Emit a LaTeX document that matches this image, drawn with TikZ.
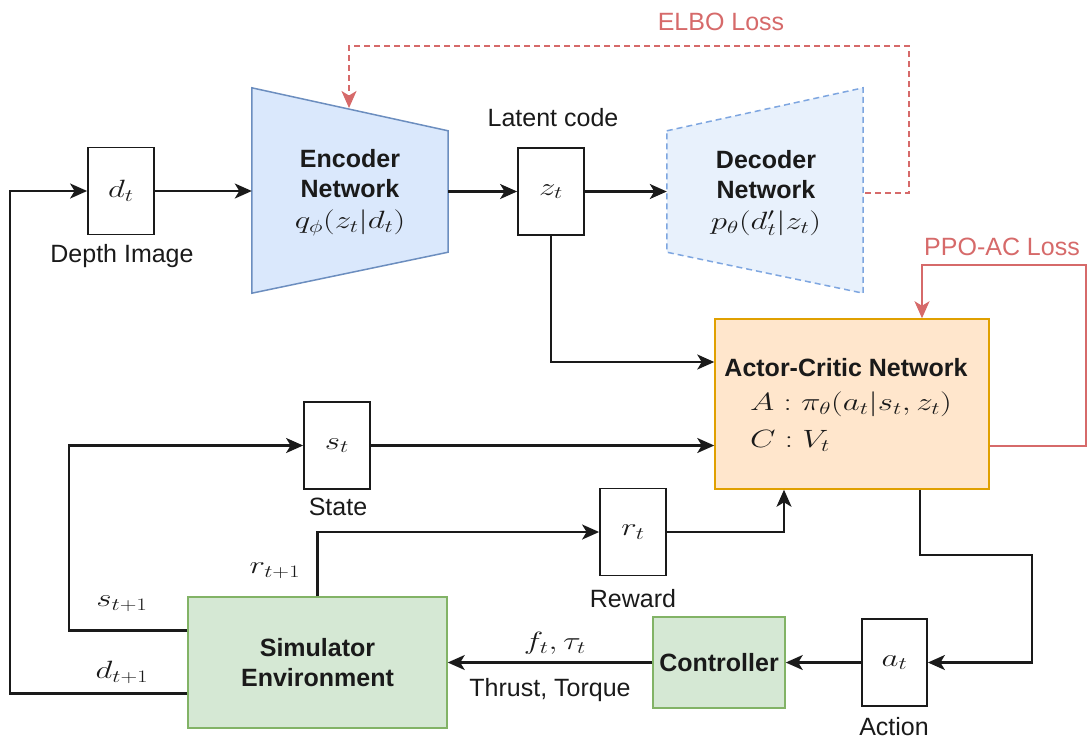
\RequirePackage{fix-cm}
\documentclass[tikz,border=0pt]{standalone}
\usepackage{graphicx}
\usepackage{fontspec}
\setmainfont{Liberation Sans}
\DeclareMathSizes{25}{25}{17.5}{12.5}
\usetikzlibrary{arrows.meta}

% math set a little wide, as in the figure's equation renderer
\newcommand{\widemath}[1]{\scalebox{1.32}[1]{$#1$}}

\definecolor{ink}{HTML}{1A1A1A}
\definecolor{encfill}{HTML}{DAE8FC}
\definecolor{encline}{HTML}{6C8EBF}
\definecolor{decfill}{HTML}{E8F1FC}
\definecolor{decline}{HTML}{7EA6E0}
\definecolor{acfill}{HTML}{FFE6CC}
\definecolor{acline}{HTML}{E0A000}
\definecolor{simfill}{HTML}{D5E8D4}
\definecolor{simline}{HTML}{82B366}
\definecolor{lossred}{HTML}{D66A6A}

\begin{document}
\begin{tikzpicture}[x=1pt,y=-1pt,
  every node/.style={font=\fontsize{25}{30}\selectfont, text=ink},
  varbox/.style={draw=ink, fill=white, line width=1.8pt, inner sep=0pt,
                 minimum width=66pt, minimum height=87pt},
  greenbox/.style={draw=simline, fill=simfill, line width=1.5pt, inner sep=0pt,
                   font=\fontsize{25}{30}\selectfont\bfseries, align=center},
  shapeframe/.style={inner sep=0pt, minimum width=196pt, minimum height=205pt},
  netlabel/.style={align=center, font=\fontsize{25}{30}\selectfont\bfseries},
  conn/.style={draw=ink, line width=2.1pt,
               -{Stealth[length=17pt,width=15pt,inset=4.5pt]}},
  loss/.style={draw=lossred, line width=1.8pt,
               -{Stealth[length=17pt,width=15pt,inset=4.5pt]}},
  lossdash/.style={loss, dash pattern=on 6pt off 4pt},
  losslabel/.style={text=lossred},
]
\useasboundingbox (0,0) rectangle (1091,740);

% ---------- encoder / decoder ----------
\node[shapeframe] (enc) at (350,190.5) {};
\filldraw[fill=encfill, draw=encline, line width=1.5pt]
  (enc.north west) -- ([yshift=-43pt]enc.north east)
  -- ([yshift=41pt]enc.south east) -- (enc.south west) -- cycle;
\node[netlabel] (enctext) at (350,193)
  {Encoder\\Network\\[1pt]\mdseries\widemath{q_\phi(z_t|d_t)}};

\node[shapeframe] (dec) at (765,190.5) {};
\filldraw[fill=decfill, draw=decline, line width=1.5pt, dash pattern=on 6pt off 4pt]
  ([yshift=-43pt]dec.north west) -- (dec.north east)
  -- (dec.south east) -- ([yshift=41pt]dec.south west) -- cycle;
\node[netlabel] (dectext) at (766,193)
  {Decoder\\Network\\[1pt]\mdseries\widemath{p_\theta(d'_t|z_t)}};

\coordinate (encT) at (349,108);
\coordinate (decR) at (865,193);

% ---------- variables ----------
\node[varbox] (dt) at (121,191) {\widemath{d_t}};
\node[varbox] (zt) at (551,191.5) {\widemath{z_t}};
\node[varbox] (st) at (337,445.5) {\widemath{s_t}};
\node[varbox] (rt) at (633,532) {\widemath{r_t}};
\node[varbox, minimum width=65pt] (at) at (894.5,662.5) {\widemath{a_t}};

\node (dtlab) at (122,256) {Depth Image};
\node (ztlab) at (553,118) {Latent code};
\node (stlab) at (338,507) {State};
\node (rtlab) at (633,599) {Reward};
\node (atlab) at (894,727) {Action};

% ---------- actor-critic ----------
\node[draw=acline, fill=acfill, line width=1.5pt, inner sep=0pt,
      minimum width=274pt, minimum height=170pt] (ac) at (852,404) {};
\node[font=\fontsize{25}{30}\selectfont\bfseries] (actitle) at (846,368) {Actor-Critic Network};
\node[anchor=west, inner sep=0pt] (acA) at (750,404) {\widemath{A:\pi_\theta(a_t|s_t,z_t)}};
\node[anchor=west, inner sep=0pt] (acC) at (750,441) {\widemath{C:V_t}};

% ---------- environment and controller ----------
\node[greenbox, minimum width=259pt, minimum height=131pt] (sim) at (317.5,662.5)
  {Simulator\\Environment};
\node[greenbox, minimum width=132pt, minimum height=91pt] (ctrl) at (719,662.5)
  {Controller};

% ---------- signal labels ----------
\node (splab) at (122,604) {\widemath{s_{t+1}}};
\node (dplab) at (122,672) {\widemath{d_{t+1}}};
\node (rplab) at (275,571) {\widemath{r_{t+1}}};
\node (ftlab) at (555,643) {\widemath{f_t,\tau_t}};
\node (thlab) at (550,690) {Thrust, Torque};

% ---------- connectors ----------
\draw[conn] (dt.east) -- (dt.east -| enc.west);
\draw[conn] (zt.west -| enc.east) -- (zt.west);
\draw[conn] (zt.east) -- (zt.east -| dec.west);
\draw[conn] (zt.south) |- ([yshift=42pt]ac.west);
\draw[conn] (st.east) -- (st.east -| ac.west);
\draw[conn] (rt.east) -| ([xshift=-68pt]ac.south);
\draw[conn] ([xshift=68pt]ac.south) |- ++(112,65) |- (at.east);
\draw[conn] (at.west) -- (ctrl.east);
\draw[conn] (ctrl.west) -- (sim.east);
\draw[conn] (sim.north) |- (rt.west);
\draw[conn] ([yshift=32pt]sim.west) -- ++(-118,0) |- (st.west);
\draw[conn] ([yshift=-31pt]sim.west) -- ++(-177,0) |- (dt.west);

% ---------- training losses ----------
\draw[lossdash] (decR) -| ++(44,-147) -| (encT);
\node[losslabel] (elbo) at (721,22) {ELBO Loss};
\draw[loss] ([yshift=-42pt]ac.east) -| ++(96,-181) -| ([xshift=70pt]ac.north);
\node[losslabel] (ppo) at (1002,247) {PPO-AC Loss};
\end{tikzpicture}
\end{document}
